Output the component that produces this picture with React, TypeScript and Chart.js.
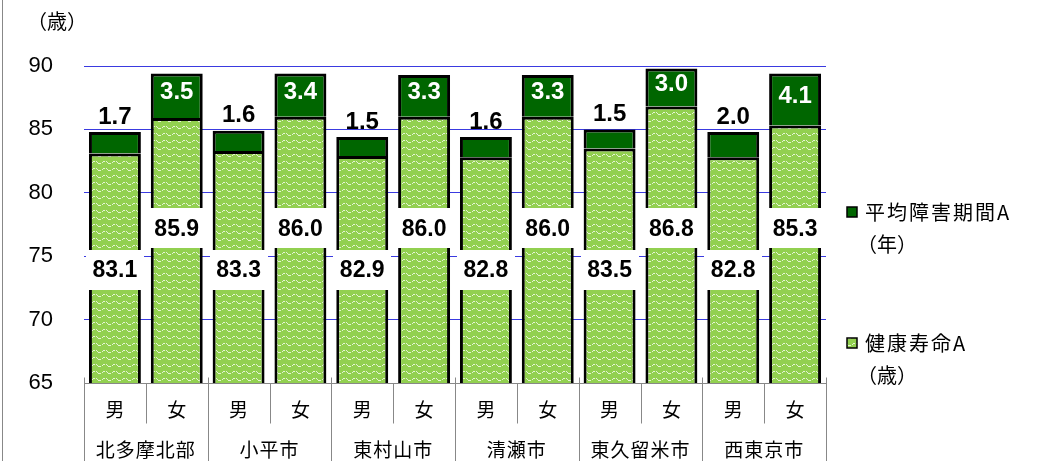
import React, { useEffect, useRef } from "react";
import { Chart, registerables } from "chart.js";

Chart.register(...registerables);

const cities = ["北多摩北部", "小平市", "東村山市", "清瀬市", "東久留米市", "西東京市"];
const sexes = ["男", "女"];
const healthyLife = [83.1, 85.9, 83.3, 86.0, 82.9, 86.0, 82.8, 86.0, 83.5, 86.8, 82.8, 85.3];
const disability = [1.7, 3.5, 1.6, 3.4, 1.5, 3.3, 1.6, 3.3, 1.5, 3.0, 2.0, 4.1];
const yMin = 65;
const yMax = 90;
const yStep = 5;
const maleLabelAt = 73.9;
const femaleLabelAt = 77.2;
const unitLabel = "（歳）";
const legendItems = [
  { lines: ["平均障害期間A", "（年）"], key: "dis" },
  { lines: ["健康寿命A", "（歳）"], key: "hl" },
];

const FONT_NUM = '"Liberation Sans", Arial, sans-serif';
const FONT_JP = '"Noto Sans CJK JP", "Noto Sans", sans-serif';
const DARK = "#006600";
const LIGHT = "#92d050";

function makePattern(ctx: CanvasRenderingContext2D) {
  const c = document.createElement("canvas");
  c.width = 10;
  c.height = 7;
  const p = c.getContext("2d")!;
  p.fillStyle = LIGHT;
  p.fillRect(0, 0, 10, 7);
  p.fillStyle = "rgba(255,255,255,0.75)";
  const px: [number, number][] = [
    [3, 0], [4, 0], [6, 0],
    [2, 1], [7, 1],
    [0, 2], [8, 2], [9, 2],
  ];
  px.forEach(([x, y]) => p.fillRect(x, y, 1, 1));
  return ctx.createPattern(c, "repeat")!;
}

export default function App() {
  const ref = useRef<HTMLCanvasElement>(null);
  useEffect(() => {
    const canvas = ref.current!;
    const ctx = canvas.getContext("2d")!;
    const pattern = makePattern(ctx);
    const labels = cities.flatMap((c) => sexes.map((s) => `${c} ${s}`));

    const overlay = {
      id: "overlay",
      afterDraw(chart: any) {
        const c = chart.ctx as CanvasRenderingContext2D;
        const area = chart.chartArea;
        const ys = chart.scales.y;
        const m0 = chart.getDatasetMeta(0);
        const m1 = chart.getDatasetMeta(1);
        const n = labels.length;
        const cw = (area.right - area.left) / n;
        c.save();
        // left frame line
        c.strokeStyle = "#888";
        c.lineWidth = 1;
        c.beginPath();
        c.moveTo(2.5, 0);
        c.lineTo(2.5, chart.height);
        c.stroke();

        // value labels
        for (let i = 0; i < n; i++) {
          const b0 = m0.data[i];
          const b1 = m1.data[i];
          const x = b0.x;
          const isMale = i % 2 === 0;
          const ly = ys.getPixelForValue(isMale ? maleLabelAt : femaleLabelAt);
          c.fillStyle = "#fff";
          c.fillRect(Math.round(x - 29), Math.round(ly - 20), 58, 40);
          c.fillStyle = "#000";
          c.font = `bold 23px ${FONT_NUM}`;
          c.textAlign = "center";
          c.textBaseline = "middle";
          c.fillText(healthyLife[i].toFixed(1), x, ly + 1);
          c.font = `bold 24px ${FONT_NUM}`;
          if (isMale) {
            c.fillStyle = "#000";
            c.fillText(disability[i].toFixed(1), x, b1.y - 15);
          } else {
            c.fillStyle = "#fff";
            c.fillText(disability[i].toFixed(1), x, (b1.y + b1.base) / 2 - 3);
          }
        }

        // x axis
        const base = Math.round(area.bottom) + 0.5;
        c.strokeStyle = "#888";
        c.lineWidth = 1;
        c.beginPath();
        c.moveTo(area.left, base);
        c.lineTo(area.right, base);
        for (let i = 0; i <= n; i++) {
          const x = Math.round(area.left + i * cw) + 0.5;
          if (i % 2 === 0) {
            c.moveTo(x, base - 6);
            c.lineTo(x, chart.height);
          } else {
            c.moveTo(x, base);
            c.lineTo(x, base + 40);
          }
        }
        c.stroke();
        c.fillStyle = "#000";
        c.font = `19px ${FONT_JP}`;
        c.textAlign = "center";
        c.textBaseline = "middle";
        for (let i = 0; i < n; i++) {
          c.fillText(sexes[i % 2], area.left + (i + 0.5) * cw, base + 26);
        }
        (c as any).letterSpacing = "1px";
        for (let k = 0; k < cities.length; k++) {
          c.fillText(cities[k], area.left + (2 * k + 1) * cw, base + 66);
        }
        (c as any).letterSpacing = "0px";

        // unit
        c.font = `20px ${FONT_JP}`;
        c.textAlign = "left";
        c.fillText(unitLabel, 27, 21);

        // legend
        const lx = 847;
        const tops = [212, 343];
        legendItems.forEach((it, j) => {
          const y = tops[j];
          c.fillStyle = it.key === "dis" ? DARK : pattern;
          c.fillRect(lx, y - 5, 10, 10);
          c.strokeStyle = "#000";
          c.lineWidth = 1.5;
          c.strokeRect(lx, y - 5, 10, 10);
          c.fillStyle = "#000";
          c.font = `20px ${FONT_JP}`;
          c.textAlign = "left";
          (c as any).letterSpacing = "2px";
          c.fillText(it.lines[0], 865, y);
          (c as any).letterSpacing = "0px";
          c.fillText(it.lines[1], 857, y + 32);
        });
        c.restore();
      },
    };

    const chart = new Chart(canvas, {
      type: "bar",
      data: {
        labels,
        datasets: [
          {
            label: "健康寿命A（歳）",
            data: healthyLife,
            backgroundColor: pattern as any,
            borderColor: "#000",
            borderWidth: 3,
            borderSkipped: false,
            barPercentage: 0.84,
            categoryPercentage: 1,
          },
          {
            label: "平均障害期間A（年）",
            data: disability,
            backgroundColor: DARK,
            borderColor: "#000",
            borderWidth: 3,
            borderSkipped: "start",
            barPercentage: 0.84,
            categoryPercentage: 1,
          },
        ],
      },
      options: {
        animation: false,
        responsive: true,
        maintainAspectRatio: false,
        layout: { padding: { top: 66, right: 216, bottom: 78, left: 0 } },
        plugins: { legend: { display: false }, tooltip: { enabled: false } },
        scales: {
          x: { display: false, stacked: true },
          y: {
            stacked: true,
            min: yMin,
            max: yMax,
            border: { display: false },
            grid: {
              drawTicks: false,
              color: (ctx: any) => (ctx.tick && ctx.tick.value === yMin ? "rgba(0,0,0,0)" : "#3a3ae0"),
              lineWidth: 1,
            },
            ticks: {
              stepSize: yStep,
              padding: 31,
              color: "#000",
              font: { family: FONT_NUM, size: 22 },
            },
            afterFit: (s: any) => {
              s.width = 84;
            },
          },
        },
      },
      plugins: [overlay],
    });
    return () => chart.destroy();
  }, []);

  return (
    <div style={{ position: "fixed", left: 0, top: 0, width: 1042, height: 461, background: "#fff" }}>
      <canvas ref={ref} />
    </div>
  );
}
